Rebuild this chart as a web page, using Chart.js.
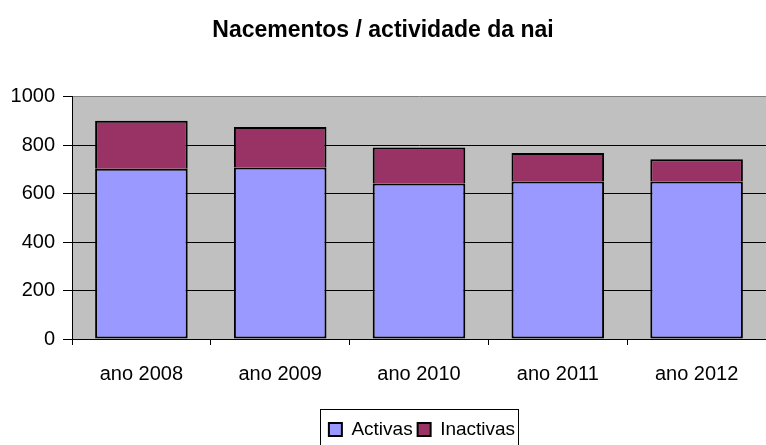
<!DOCTYPE html>
<html>
<head>
<meta charset="utf-8">
<style>
  html, body { margin: 0; padding: 0; background: #fff; }
  #wrap { width: 766px; height: 445px; }
</style>
</head>
<body>
<div id="wrap"><canvas id="nacChart"></canvas></div>

<script src="https://cdn.jsdelivr.net/npm/chart.js"></script>
<script>
    // values
    const years = ['ano 2008', 'ano 2009', 'ano 2010', 'ano 2011', 'ano 2012'];
    const activas = [702, 707, 642, 650, 650];
    const inactivas = [198, 168, 148, 117, 92];
    const yTicks = [0, 200, 400, 600, 800, 1000];

    const fontFam = '"Liberation Sans", Arial, sans-serif';

    // gray plot area, legend nudged right + boxed, like the old Excel chart
    const excelLook = {
        id: 'excelLook',
        afterLayout(chart) {
            const lg = chart.legend;
            lg.left += 39; lg.right += 39;
            lg.top += 4; lg.bottom += 4;
        },
        beforeDraw(chart) {
            const a = chart.chartArea;
            const ctx = chart.ctx;
            ctx.save();
            ctx.fillStyle = '#C0C0C0';
            ctx.fillRect(a.left, a.top, a.right - a.left, a.bottom - a.top);
            ctx.restore();
        },
        afterDraw(chart) {
            const hb = chart.legend.legendHitBoxes;
            if (!hb || !hb.length) return;
            const first = hb[0], last = hb[hb.length - 1];
            const ctx = chart.ctx;
            ctx.save();
            ctx.strokeStyle = '#000';
            ctx.lineWidth = 1;
            const x0 = Math.round(first.left - 9) + 0.5;
            const x1 = Math.round(last.left + last.width + 3) + 0.5;
            const y0 = Math.round(first.top - 11.5) + 0.5;
            ctx.strokeRect(x0, y0, x1 - x0, chart.height + 10 - y0);
            ctx.restore();
        }
    };

    new Chart(document.getElementById('nacChart').getContext('2d'), {
        type: 'bar',
        data: {
            labels: years,
            datasets: [
                {
                    label: 'Activas',
                    data: activas,
                    backgroundColor: '#9999FF',
                    borderColor: '#000',
                    borderWidth: 2,
                    borderSkipped: false
                },
                {
                    label: 'Inactivas',
                    data: inactivas,
                    backgroundColor: '#993366',
                    borderColor: '#000',
                    borderWidth: 2,
                    borderSkipped: 'bottom'
                }
            ]
        },
        options: {
            responsive: true,
            maintainAspectRatio: false,
            animation: false,
            layout: { padding: { left: 0, right: 0, top: 0, bottom: 0 } },
            datasets: {
                bar: { categoryPercentage: 1.0, barPercentage: 0.667 }
            },
            plugins: {
                title: {
                    display: true,
                    text: 'Nacementos / actividade da nai',
                    color: '#000',
                    font: { family: fontFam, size: 23, weight: 'bold' },
                    padding: { top: 17, bottom: 52 }
                },
                legend: {
                    position: 'bottom',
                    labels: {
                        color: '#000',
                        font: { family: fontFam, size: 19 },
                        boxWidth: 13,
                        boxHeight: 13,
                        padding: 5
                    }
                },
                tooltip: { enabled: false }
            },
            scales: {
                x: {
                    stacked: true,
                    grid: {
                        offset: true,
                        drawOnChartArea: false,
                        color: '#000',
                        tickLength: 6
                    },
                    border: { display: true, color: '#000', width: 1 },
                    ticks: {
                        color: '#000',
                        font: { family: fontFam, size: 20 },
                        padding: 17,
                        maxRotation: 0
                    },
                    afterFit(scale) { scale.height = 72; }
                },
                y: {
                    stacked: true,
                    min: yTicks[0],
                    max: yTicks[yTicks.length - 1],
                    afterBuildTicks(scale) {
                        scale.ticks = yTicks.map(v => ({ value: v }));
                    },
                    grid: {
                        color: ctx => (ctx.tick && ctx.tick.value === 1000) ? '#808080' : '#000',
                        tickColor: '#000',
                        tickLength: 9,
                        lineWidth: 1
                    },
                    border: { display: true, color: '#000', width: 1 },
                    ticks: {
                        color: '#000',
                        font: { family: fontFam, size: 20 },
                        padding: 8,
                        callback: v => String(v)
                    },
                    afterFit(scale) { scale.width = 72; }
                }
            }
        },
        plugins: [excelLook]
    });
</script>
</body>
</html>
